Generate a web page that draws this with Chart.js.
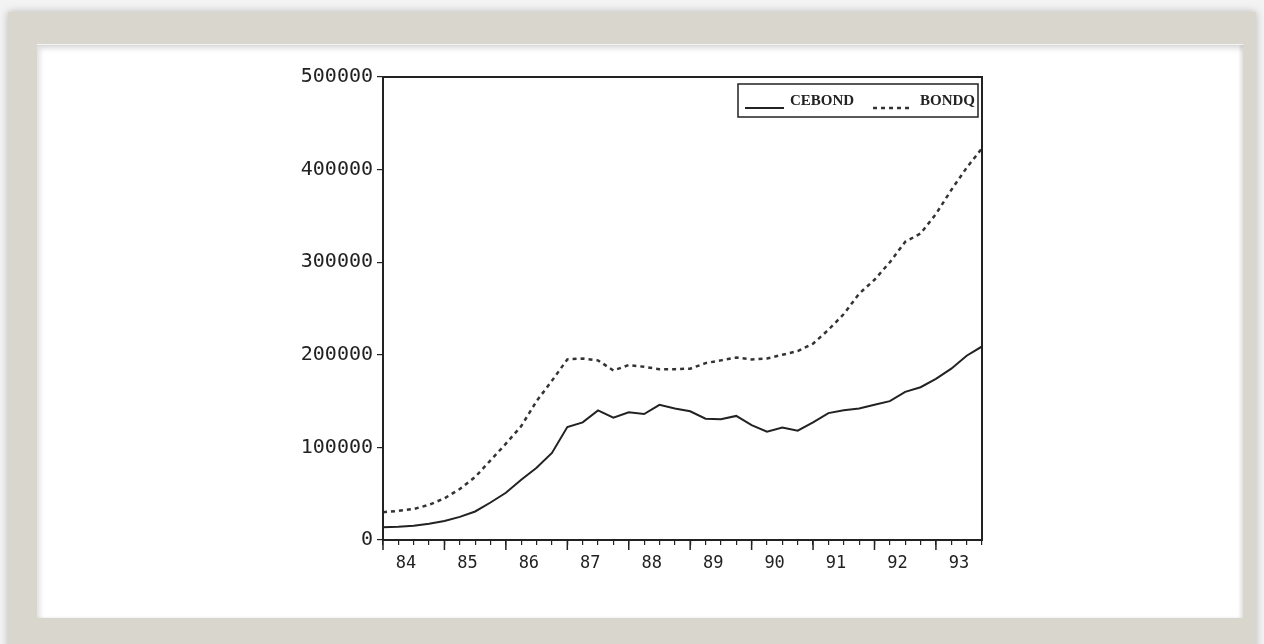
<!DOCTYPE html>
<html lang="en">
<head>
<meta charset="UTF-8">
<title>CEBOND / BONDQ</title>
<script src="https://cdn.jsdelivr.net/npm/chart.js"></script>
<style>
html, body {
  margin: 0;
  padding: 0;
  width: 1264px;
  height: 644px;
  overflow: hidden;
  background: #f3f3f3;
}
#frame {
  position: absolute;
  left: 8px;
  top: 12px;
  width: 1248px;
  height: 645px;
  background: #d9d6ce;
  box-shadow: 0 0 8px rgba(0,0,0,0.25);
}
#paper {
  position: absolute;
  left: 37px;
  top: 44px;
  width: 1206px;
  height: 573px;
  background: #fff;
  border-top: 1px solid #f4f4f4;
  box-shadow: inset 3px 4px 5px rgba(0,0,0,0.12), inset -3px 0 3px rgba(0,0,0,0.10);
}
#wrap {
  position: absolute;
  left: 0;
  top: 0;
  width: 1264px;
  height: 644px;
}
</style>
</head>
<body>
<div id="frame"></div>
<div id="paper"></div>
<div id="wrap"><canvas id="chart1" width="1264" height="644"></canvas></div>

<script>
// quarterly, 1984Q1 .. 1993Q4
const years = ["84", "85", "86", "87", "88", "89", "90", "91", "92", "93"];
const quarters = [];
for (let i = 0; i < 40; i++) quarters.push(i);

const cebond = [
  13700, 14200, 15300, 17500, 20500, 25000, 30800, 40500, 51000, 65000,
  78000, 94000, 122000, 127000, 140000, 132000, 138000, 136000, 146000, 142000,
  139000, 131000, 130300, 134000, 124000, 117000, 121500, 118000, 127000, 137000,
  140000, 142000, 146000, 150000, 160000, 165000, 174000, 185000, 199000, 209000
];
const bondq = [
  30000, 31500, 33500, 38000, 45000, 55000, 68000, 86000, 104000, 123000,
  150000, 172000, 195000, 196000, 194000, 183000, 189000, 187000, 184500, 184500,
  185000, 191000, 194000, 197000, 195000, 196000, 200000, 204000, 212000, 227000,
  244000, 266000, 281000, 300000, 322000, 331000, 352000, 378000, 402000, 423000
];
const yTicks = [0, 100000, 200000, 300000, 400000, 500000];

const ink = "#222";
const monoFont = "'DejaVu Sans Mono', monospace";

// box round the plot, longer ticks at year starts, and the legend inside
const framePlugin = {
  id: "framePlugin",
  afterDraw(chart) {
    const ctx = chart.ctx;
    const a = chart.chartArea;
    const xs = chart.scales.x;
    ctx.save();
    ctx.strokeStyle = ink;
    ctx.lineWidth = 2;
    ctx.strokeRect(a.left, a.top, a.right - a.left, a.bottom - a.top);

    ctx.lineWidth = 1.5;
    quarters.forEach(q => {
      if (q % 4 === 0) {
        const px = xs.getPixelForValue(q);
        ctx.beginPath();
        ctx.moveTo(px, a.bottom);
        ctx.lineTo(px, a.bottom + 10);
        ctx.stroke();
      }
    });

    // legend
    const lx = 738, ly = 84, lw = 240, lh = 33;
    ctx.fillStyle = "#fff";
    ctx.fillRect(lx, ly, lw, lh);
    ctx.lineWidth = 1.5;
    ctx.strokeRect(lx, ly, lw, lh);
    ctx.font = "bold 15px 'Liberation Serif', serif";
    ctx.fillStyle = ink;
    ctx.textBaseline = "middle";
    const ds = chart.data.datasets;
    const items = [
      { ds: ds[0], x0: 745, x1: 784, tx: 790 },
      { ds: ds[1], x0: 873, x1: 910, tx: 920 }
    ];
    items.forEach(it => {
      ctx.beginPath();
      ctx.lineWidth = it.ds.borderWidth;
      ctx.setLineDash(it.ds.borderDash || []);
      ctx.strokeStyle = it.ds.borderColor;
      ctx.moveTo(it.x0, 108);
      ctx.lineTo(it.x1, 108);
      ctx.stroke();
      ctx.setLineDash([]);
      ctx.fillText(it.ds.label, it.tx, 101);
    });
    ctx.restore();
  }
};

new Chart(document.getElementById("chart1"), {
  type: "line",
  data: {
    labels: quarters,
    datasets: [
      {
        label: "CEBOND",
        data: quarters.map((q, i) => ({ x: q, y: cebond[i] })),
        borderColor: "#222",
        borderWidth: 2,
        pointRadius: 0,
        tension: 0,
        fill: false
      },
      {
        label: "BONDQ",
        data: quarters.map((q, i) => ({ x: q, y: bondq[i] })),
        borderColor: "#333",
        borderWidth: 2.5,
        borderDash: [4, 4],
        pointRadius: 0,
        tension: 0,
        fill: false
      }
    ]
  },
  options: {
    responsive: false,
    animation: false,
    layout: { padding: { left: 283, right: 282, top: 77, bottom: 64 } },
    plugins: {
      legend: { display: false },
      tooltip: { enabled: false }
    },
    scales: {
      x: {
        type: "linear",
        min: 0,
        max: 39,
        afterFit(scale) { scale.height = 40; },
        afterBuildTicks(scale) { scale.ticks = quarters.map(q => ({ value: q })); },
        ticks: {
          autoSkip: false,
          maxRotation: 0,
          labelOffset: 23,
          padding: 8,
          color: ink,
          font: { family: monoFont, size: 17 },
          callback: v => (v % 4 === 0 ? years[v / 4] : "")
        },
        grid: { drawOnChartArea: false, drawTicks: true, tickLength: 5, color: ink, lineWidth: 1.2 },
        border: { display: true, color: ink, width: 2 }
      },
      y: {
        min: 0,
        max: 500000,
        afterFit(scale) { scale.width = 100; },
        afterBuildTicks(scale) { scale.ticks = yTicks.map(v => ({ value: v })); },
        ticks: {
          padding: 4,
          color: ink,
          font: { family: monoFont, size: 20 },
          callback: v => String(v)
        },
        grid: { drawOnChartArea: false, drawTicks: true, tickLength: 6, color: ink, lineWidth: 1.2 },
        border: { display: true, color: ink, width: 2 }
      }
    }
  },
  plugins: [framePlugin]
});
</script>
</body>
</html>
